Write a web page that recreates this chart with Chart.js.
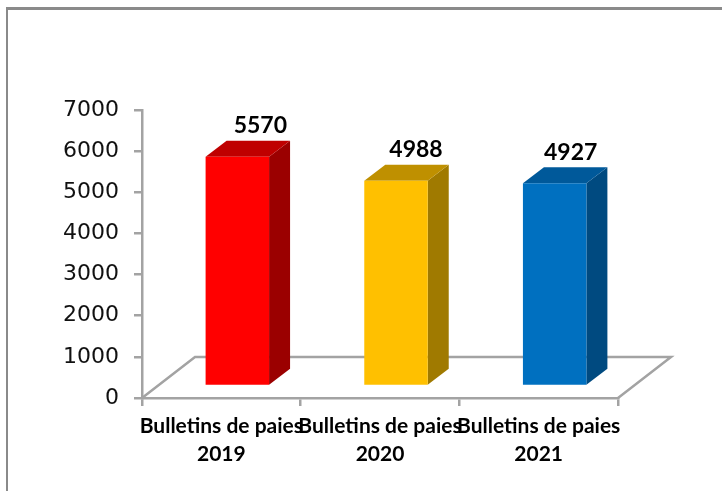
<!DOCTYPE html>
<html><head><meta charset="utf-8">
<style>
html,body{margin:0;padding:0;background:#fff;overflow:hidden}
#frame{position:absolute;left:6px;top:7px;width:716px;height:484px;border-top:3px solid #8a8a8a;border-left:2px solid #8a8a8a;box-sizing:border-box}
#wrap{position:absolute;left:0;top:0;width:722px;height:491px}
</style>
<script src="https://cdn.jsdelivr.net/npm/chart.js@4/dist/chart.umd.min.js"></script>
</head><body>
<div id="frame"></div>
<div id="wrap"><canvas id="c" width="722" height="491"></canvas></div>
<script>
const categories=[["Bulletins de paies","2019"],["Bulletins de paies","2020"],["Bulletins de paies","2021"]];
const values=[5570,4988,4927];
const frontColors=["#FF0000","#FFC000","#0070C0"];
const topColors=["#BF0000","#BF9000","#00599A"];
const sideColors=["#9B0000","#A07A00","#004A80"];
const AXIS="#A3A3A3";
const shiftX=16, shiftY=-12, depthX=21, depthY=16, floorX=53, floorY=41;
const labelShift=[23,20,16];

const threeD={
  id:'threeD',
  beforeDatasetsDraw(chart){
    const {ctx,chartArea:a}=chart;
    ctx.save();
    ctx.strokeStyle=AXIS;ctx.lineWidth=2.5;
    ctx.beginPath();
    ctx.moveTo(a.left,a.bottom);
    ctx.lineTo(a.left+floorX,a.bottom-floorY);
    ctx.lineTo(a.right+floorX,a.bottom-floorY);
    ctx.lineTo(a.right,a.bottom);
    ctx.stroke();
    ctx.restore();
  },
  beforeDatasetDraw(chart){
    const ctx=chart.ctx;
    ctx.save();
    ctx.translate(shiftX,shiftY);
    chart.getDatasetMeta(0).data.forEach((b,i)=>{
      const r=b.x+b.width/2,l=b.x-b.width/2,t=b.y,bot=b.base;
      ctx.fillStyle=sideColors[i];
      ctx.beginPath();
      ctx.moveTo(r,t);ctx.lineTo(r+depthX,t-depthY);ctx.lineTo(r+depthX,bot-depthY);ctx.lineTo(r,bot);ctx.closePath();ctx.fill();
      ctx.fillStyle=topColors[i];
      ctx.beginPath();
      ctx.moveTo(l,t);ctx.lineTo(l+depthX,t-depthY);ctx.lineTo(r+depthX,t-depthY);ctx.lineTo(r,t);ctx.closePath();ctx.fill();
    });
  },
  afterDatasetDraw(chart){chart.ctx.restore();},
  afterDatasetsDraw(chart){
    const ctx=chart.ctx;
    ctx.save();
    ctx.fillStyle="#000";
    ctx.font="bold 23px Lato";
    ctx.textAlign="center";ctx.textBaseline="middle";
    chart.getDatasetMeta(0).data.forEach((b,i)=>{
      ctx.fillText(String(values[i]),b.x+shiftX+labelShift[i],b.y+shiftY-31);
    });
    ctx.restore();
  }
};

new Chart(document.getElementById('c'),{
  type:'bar',
  data:{labels:categories,datasets:[{data:values,backgroundColor:frontColors,barPercentage:0.4,categoryPercentage:1,borderWidth:0}]},
  plugins:[threeD],
  options:{
    responsive:false,animation:false,
    layout:{padding:{top:110,right:104,left:0,bottom:0}},
    plugins:{legend:{display:false},tooltip:{enabled:false}},
    scales:{
      x:{
        afterFit(s){s.height=93;},
        grid:{drawOnChartArea:false,color:AXIS,lineWidth:2.5,tickLength:8},
        border:{color:AXIS,width:2.5},
        ticks:{color:"#000",font:{family:"Lato",weight:"bold",size:21,lineHeight:1.3},maxRotation:0,minRotation:0,autoSkip:false,padding:7}
      },
      y:{
        min:0,max:7000,
        afterFit(s){s.width=142;},
        grid:{drawOnChartArea:false,color:AXIS,lineWidth:2.5,tickLength:8},
        border:{color:AXIS,width:2.5},
        ticks:{stepSize:1000,color:"#111",font:{family:"DejaVu Sans",size:22},padding:15,callback:v=>String(v)}
      }
    }
  }
});
</script>
</body></html>
